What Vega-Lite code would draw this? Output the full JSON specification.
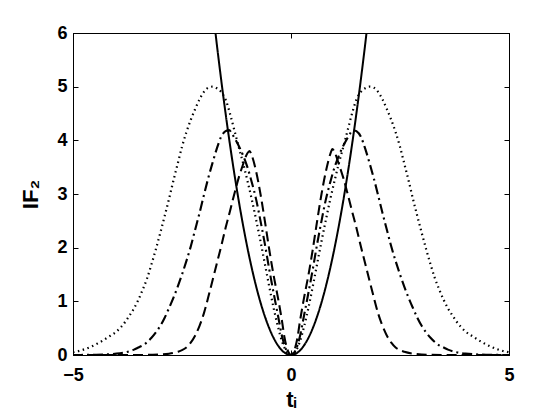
{
  "$schema": "https://vega.github.io/schema/vega-lite/v6.json",
  "width": 436,
  "height": 322,
  "autosize": {"type": "none"},
  "padding": {"left": 73, "top": 33, "right": 51, "bottom": 65},
  "background": "white",
  "config": {
    "view": {"stroke": "black", "strokeWidth": 1},
    "font": "Liberation Sans",
    "axis": {
      "grid": false,
      "domainColor": "black",
      "tickColor": "black",
      "labelColor": "black",
      "titleColor": "black",
      "labelFont": "Liberation Sans",
      "titleFont": "Liberation Sans",
      "labelFontWeight": "bold",
      "titleFontWeight": "bold",
      "labelFontSize": 18,
      "titleFontSize": 22,
      "tickSize": -5,
      "tickWidth": 1,
      "domainWidth": 1
    }
  },
  "data": {
    "values": [
      {"s": "solid", "t": -1.8, "v": 6.48}, {"s": "solid", "t": -1.7, "v": 5.78}, {"s": "solid", "t": -1.6, "v": 5.12}, {"s": "solid", "t": -1.5, "v": 4.5}, {"s": "solid", "t": -1.4, "v": 3.92}, {"s": "solid", "t": -1.3, "v": 3.38}, {"s": "solid", "t": -1.2, "v": 2.88}, {"s": "solid", "t": -1.1, "v": 2.42}, {"s": "solid", "t": -1.0, "v": 2.0}, {"s": "solid", "t": -0.9, "v": 1.62}, {"s": "solid", "t": -0.8, "v": 1.28}, {"s": "solid", "t": -0.7, "v": 0.98}, {"s": "solid", "t": -0.6, "v": 0.72}, {"s": "solid", "t": -0.5, "v": 0.5}, {"s": "solid", "t": -0.4, "v": 0.32}, {"s": "solid", "t": -0.3, "v": 0.18}, {"s": "solid", "t": -0.2, "v": 0.08}, {"s": "solid", "t": -0.1, "v": 0.02}, {"s": "solid", "t": 0, "v": 0},
      {"s": "solid", "t": 0.1, "v": 0.02}, {"s": "solid", "t": 0.2, "v": 0.08}, {"s": "solid", "t": 0.3, "v": 0.18}, {"s": "solid", "t": 0.4, "v": 0.32}, {"s": "solid", "t": 0.5, "v": 0.5}, {"s": "solid", "t": 0.6, "v": 0.72}, {"s": "solid", "t": 0.7, "v": 0.98}, {"s": "solid", "t": 0.8, "v": 1.28}, {"s": "solid", "t": 0.9, "v": 1.62}, {"s": "solid", "t": 1.0, "v": 2.0}, {"s": "solid", "t": 1.1, "v": 2.42}, {"s": "solid", "t": 1.2, "v": 2.88}, {"s": "solid", "t": 1.3, "v": 3.38}, {"s": "solid", "t": 1.4, "v": 3.92}, {"s": "solid", "t": 1.5, "v": 4.5}, {"s": "solid", "t": 1.6, "v": 5.12}, {"s": "solid", "t": 1.7, "v": 5.78}, {"s": "solid", "t": 1.8, "v": 6.48},

      {"s": "dashed", "t": -5, "v": 0}, {"s": "dashed", "t": -4, "v": 0}, {"s": "dashed", "t": -3.5, "v": 0}, {"s": "dashed", "t": -3.0, "v": 0.01}, {"s": "dashed", "t": -2.8, "v": 0.025}, {"s": "dashed", "t": -2.6, "v": 0.06}, {"s": "dashed", "t": -2.5, "v": 0.09}, {"s": "dashed", "t": -2.4, "v": 0.14}, {"s": "dashed", "t": -2.3, "v": 0.23}, {"s": "dashed", "t": -2.2, "v": 0.36}, {"s": "dashed", "t": -2.1, "v": 0.54}, {"s": "dashed", "t": -2.0, "v": 0.77}, {"s": "dashed", "t": -1.9, "v": 1.07}, {"s": "dashed", "t": -1.8, "v": 1.39}, {"s": "dashed", "t": -1.7, "v": 1.71}, {"s": "dashed", "t": -1.6, "v": 2.03}, {"s": "dashed", "t": -1.5, "v": 2.37}, {"s": "dashed", "t": -1.4, "v": 2.68}, {"s": "dashed", "t": -1.3, "v": 3.0}, {"s": "dashed", "t": -1.2, "v": 3.3}, {"s": "dashed", "t": -1.1, "v": 3.55}, {"s": "dashed", "t": -1.0, "v": 3.76}, {"s": "dashed", "t": -0.95, "v": 3.8}, {"s": "dashed", "t": -0.9, "v": 3.72}, {"s": "dashed", "t": -0.8, "v": 3.42}, {"s": "dashed", "t": -0.7, "v": 3.0}, {"s": "dashed", "t": -0.6, "v": 2.5}, {"s": "dashed", "t": -0.5, "v": 1.97}, {"s": "dashed", "t": -0.4, "v": 1.49}, {"s": "dashed", "t": -0.3, "v": 1.07}, {"s": "dashed", "t": -0.2, "v": 0.6}, {"s": "dashed", "t": -0.15, "v": 0.33}, {"s": "dashed", "t": -0.1, "v": 0.15}, {"s": "dashed", "t": -0.05, "v": 0.04}, {"s": "dashed", "t": 0, "v": 0},
      {"s": "dashed", "t": 0.05, "v": 0.04}, {"s": "dashed", "t": 0.1, "v": 0.15}, {"s": "dashed", "t": 0.15, "v": 0.33}, {"s": "dashed", "t": 0.2, "v": 0.6}, {"s": "dashed", "t": 0.3, "v": 1.07}, {"s": "dashed", "t": 0.4, "v": 1.49}, {"s": "dashed", "t": 0.5, "v": 1.97}, {"s": "dashed", "t": 0.6, "v": 2.5}, {"s": "dashed", "t": 0.7, "v": 3.0}, {"s": "dashed", "t": 0.8, "v": 3.42}, {"s": "dashed", "t": 0.9, "v": 3.74}, {"s": "dashed", "t": 0.95, "v": 3.84}, {"s": "dashed", "t": 1.0, "v": 3.78}, {"s": "dashed", "t": 1.1, "v": 3.55}, {"s": "dashed", "t": 1.2, "v": 3.3}, {"s": "dashed", "t": 1.3, "v": 3.0}, {"s": "dashed", "t": 1.4, "v": 2.68}, {"s": "dashed", "t": 1.5, "v": 2.37}, {"s": "dashed", "t": 1.6, "v": 2.03}, {"s": "dashed", "t": 1.7, "v": 1.71}, {"s": "dashed", "t": 1.8, "v": 1.39}, {"s": "dashed", "t": 1.9, "v": 1.07}, {"s": "dashed", "t": 2.0, "v": 0.77}, {"s": "dashed", "t": 2.1, "v": 0.54}, {"s": "dashed", "t": 2.2, "v": 0.36}, {"s": "dashed", "t": 2.3, "v": 0.23}, {"s": "dashed", "t": 2.4, "v": 0.14}, {"s": "dashed", "t": 2.5, "v": 0.09}, {"s": "dashed", "t": 2.6, "v": 0.06}, {"s": "dashed", "t": 2.8, "v": 0.025}, {"s": "dashed", "t": 3.0, "v": 0.01}, {"s": "dashed", "t": 3.5, "v": 0}, {"s": "dashed", "t": 4, "v": 0}, {"s": "dashed", "t": 5, "v": 0},

      {"s": "dashdot", "t": -5, "v": 0}, {"s": "dashdot", "t": -4.5, "v": 0.005}, {"s": "dashdot", "t": -4.0, "v": 0.025}, {"s": "dashdot", "t": -3.8, "v": 0.05}, {"s": "dashdot", "t": -3.6, "v": 0.1}, {"s": "dashdot", "t": -3.5, "v": 0.14}, {"s": "dashdot", "t": -3.4, "v": 0.18}, {"s": "dashdot", "t": -3.3, "v": 0.24}, {"s": "dashdot", "t": -3.2, "v": 0.32}, {"s": "dashdot", "t": -3.1, "v": 0.42}, {"s": "dashdot", "t": -3.0, "v": 0.54}, {"s": "dashdot", "t": -2.9, "v": 0.69}, {"s": "dashdot", "t": -2.8, "v": 0.87}, {"s": "dashdot", "t": -2.7, "v": 1.06}, {"s": "dashdot", "t": -2.6, "v": 1.27}, {"s": "dashdot", "t": -2.5, "v": 1.5}, {"s": "dashdot", "t": -2.4, "v": 1.75}, {"s": "dashdot", "t": -2.3, "v": 2.02}, {"s": "dashdot", "t": -2.2, "v": 2.33}, {"s": "dashdot", "t": -2.1, "v": 2.64}, {"s": "dashdot", "t": -2.0, "v": 2.97}, {"s": "dashdot", "t": -1.9, "v": 3.29}, {"s": "dashdot", "t": -1.8, "v": 3.58}, {"s": "dashdot", "t": -1.7, "v": 3.85}, {"s": "dashdot", "t": -1.6, "v": 4.07}, {"s": "dashdot", "t": -1.5, "v": 4.17}, {"s": "dashdot", "t": -1.42, "v": 4.19}, {"s": "dashdot", "t": -1.35, "v": 4.12}, {"s": "dashdot", "t": -1.3, "v": 4.05}, {"s": "dashdot", "t": -1.2, "v": 3.9}, {"s": "dashdot", "t": -1.1, "v": 3.72}, {"s": "dashdot", "t": -1.0, "v": 3.5}, {"s": "dashdot", "t": -0.9, "v": 3.22}, {"s": "dashdot", "t": -0.8, "v": 2.9}, {"s": "dashdot", "t": -0.7, "v": 2.5}, {"s": "dashdot", "t": -0.6, "v": 2.07}, {"s": "dashdot", "t": -0.5, "v": 1.6}, {"s": "dashdot", "t": -0.4, "v": 1.16}, {"s": "dashdot", "t": -0.3, "v": 0.74}, {"s": "dashdot", "t": -0.2, "v": 0.33}, {"s": "dashdot", "t": -0.1, "v": 0.08}, {"s": "dashdot", "t": 0, "v": 0},
      {"s": "dashdot", "t": 0.1, "v": 0.08}, {"s": "dashdot", "t": 0.2, "v": 0.33}, {"s": "dashdot", "t": 0.3, "v": 0.74}, {"s": "dashdot", "t": 0.4, "v": 1.16}, {"s": "dashdot", "t": 0.5, "v": 1.6}, {"s": "dashdot", "t": 0.6, "v": 2.07}, {"s": "dashdot", "t": 0.7, "v": 2.5}, {"s": "dashdot", "t": 0.8, "v": 2.9}, {"s": "dashdot", "t": 0.9, "v": 3.22}, {"s": "dashdot", "t": 1.0, "v": 3.5}, {"s": "dashdot", "t": 1.1, "v": 3.72}, {"s": "dashdot", "t": 1.2, "v": 3.9}, {"s": "dashdot", "t": 1.3, "v": 4.05}, {"s": "dashdot", "t": 1.35, "v": 4.12}, {"s": "dashdot", "t": 1.42, "v": 4.19}, {"s": "dashdot", "t": 1.5, "v": 4.17}, {"s": "dashdot", "t": 1.6, "v": 4.07}, {"s": "dashdot", "t": 1.7, "v": 3.85}, {"s": "dashdot", "t": 1.8, "v": 3.58}, {"s": "dashdot", "t": 1.9, "v": 3.29}, {"s": "dashdot", "t": 2.0, "v": 2.97}, {"s": "dashdot", "t": 2.1, "v": 2.64}, {"s": "dashdot", "t": 2.2, "v": 2.33}, {"s": "dashdot", "t": 2.3, "v": 2.02}, {"s": "dashdot", "t": 2.4, "v": 1.75}, {"s": "dashdot", "t": 2.5, "v": 1.5}, {"s": "dashdot", "t": 2.6, "v": 1.27}, {"s": "dashdot", "t": 2.7, "v": 1.06}, {"s": "dashdot", "t": 2.8, "v": 0.87}, {"s": "dashdot", "t": 2.9, "v": 0.69}, {"s": "dashdot", "t": 3.0, "v": 0.54}, {"s": "dashdot", "t": 3.1, "v": 0.42}, {"s": "dashdot", "t": 3.2, "v": 0.32}, {"s": "dashdot", "t": 3.3, "v": 0.24}, {"s": "dashdot", "t": 3.4, "v": 0.18}, {"s": "dashdot", "t": 3.5, "v": 0.14}, {"s": "dashdot", "t": 3.6, "v": 0.1}, {"s": "dashdot", "t": 3.8, "v": 0.05}, {"s": "dashdot", "t": 4.0, "v": 0.025}, {"s": "dashdot", "t": 4.5, "v": 0.005}, {"s": "dashdot", "t": 5, "v": 0},

      {"s": "dotted", "t": -5.0, "v": 0.05}, {"s": "dotted", "t": -4.8, "v": 0.09}, {"s": "dotted", "t": -4.6, "v": 0.15}, {"s": "dotted", "t": -4.4, "v": 0.23}, {"s": "dotted", "t": -4.2, "v": 0.33}, {"s": "dotted", "t": -4.0, "v": 0.44}, {"s": "dotted", "t": -3.9, "v": 0.52}, {"s": "dotted", "t": -3.8, "v": 0.62}, {"s": "dotted", "t": -3.7, "v": 0.74}, {"s": "dotted", "t": -3.6, "v": 0.87}, {"s": "dotted", "t": -3.5, "v": 1.03}, {"s": "dotted", "t": -3.4, "v": 1.22}, {"s": "dotted", "t": -3.3, "v": 1.43}, {"s": "dotted", "t": -3.2, "v": 1.69}, {"s": "dotted", "t": -3.1, "v": 1.97}, {"s": "dotted", "t": -3.0, "v": 2.27}, {"s": "dotted", "t": -2.9, "v": 2.58}, {"s": "dotted", "t": -2.8, "v": 2.9}, {"s": "dotted", "t": -2.7, "v": 3.24}, {"s": "dotted", "t": -2.6, "v": 3.56}, {"s": "dotted", "t": -2.5, "v": 3.88}, {"s": "dotted", "t": -2.4, "v": 4.15}, {"s": "dotted", "t": -2.3, "v": 4.38}, {"s": "dotted", "t": -2.2, "v": 4.58}, {"s": "dotted", "t": -2.1, "v": 4.76}, {"s": "dotted", "t": -2.0, "v": 4.9}, {"s": "dotted", "t": -1.9, "v": 4.98}, {"s": "dotted", "t": -1.8, "v": 5.0}, {"s": "dotted", "t": -1.7, "v": 4.97}, {"s": "dotted", "t": -1.6, "v": 4.9}, {"s": "dotted", "t": -1.5, "v": 4.76}, {"s": "dotted", "t": -1.4, "v": 4.5}, {"s": "dotted", "t": -1.3, "v": 4.19}, {"s": "dotted", "t": -1.2, "v": 3.88}, {"s": "dotted", "t": -1.1, "v": 3.58}, {"s": "dotted", "t": -1.0, "v": 3.25}, {"s": "dotted", "t": -0.9, "v": 2.9}, {"s": "dotted", "t": -0.8, "v": 2.52}, {"s": "dotted", "t": -0.7, "v": 2.12}, {"s": "dotted", "t": -0.6, "v": 1.7}, {"s": "dotted", "t": -0.5, "v": 1.28}, {"s": "dotted", "t": -0.4, "v": 0.88}, {"s": "dotted", "t": -0.3, "v": 0.53}, {"s": "dotted", "t": -0.2, "v": 0.24}, {"s": "dotted", "t": -0.1, "v": 0.06}, {"s": "dotted", "t": 0, "v": 0},
      {"s": "dotted", "t": 0.1, "v": 0.06}, {"s": "dotted", "t": 0.2, "v": 0.24}, {"s": "dotted", "t": 0.3, "v": 0.53}, {"s": "dotted", "t": 0.4, "v": 0.88}, {"s": "dotted", "t": 0.5, "v": 1.28}, {"s": "dotted", "t": 0.6, "v": 1.7}, {"s": "dotted", "t": 0.7, "v": 2.12}, {"s": "dotted", "t": 0.8, "v": 2.52}, {"s": "dotted", "t": 0.9, "v": 2.9}, {"s": "dotted", "t": 1.0, "v": 3.25}, {"s": "dotted", "t": 1.1, "v": 3.58}, {"s": "dotted", "t": 1.2, "v": 3.88}, {"s": "dotted", "t": 1.3, "v": 4.19}, {"s": "dotted", "t": 1.4, "v": 4.5}, {"s": "dotted", "t": 1.5, "v": 4.76}, {"s": "dotted", "t": 1.6, "v": 4.9}, {"s": "dotted", "t": 1.7, "v": 4.97}, {"s": "dotted", "t": 1.8, "v": 5.0}, {"s": "dotted", "t": 1.9, "v": 4.98}, {"s": "dotted", "t": 2.0, "v": 4.9}, {"s": "dotted", "t": 2.1, "v": 4.76}, {"s": "dotted", "t": 2.2, "v": 4.58}, {"s": "dotted", "t": 2.3, "v": 4.38}, {"s": "dotted", "t": 2.4, "v": 4.15}, {"s": "dotted", "t": 2.5, "v": 3.88}, {"s": "dotted", "t": 2.6, "v": 3.56}, {"s": "dotted", "t": 2.7, "v": 3.24}, {"s": "dotted", "t": 2.8, "v": 2.9}, {"s": "dotted", "t": 2.9, "v": 2.58}, {"s": "dotted", "t": 3.0, "v": 2.27}, {"s": "dotted", "t": 3.1, "v": 1.97}, {"s": "dotted", "t": 3.2, "v": 1.69}, {"s": "dotted", "t": 3.3, "v": 1.43}, {"s": "dotted", "t": 3.4, "v": 1.22}, {"s": "dotted", "t": 3.5, "v": 1.03}, {"s": "dotted", "t": 3.6, "v": 0.87}, {"s": "dotted", "t": 3.7, "v": 0.74}, {"s": "dotted", "t": 3.8, "v": 0.62}, {"s": "dotted", "t": 3.9, "v": 0.52}, {"s": "dotted", "t": 4.0, "v": 0.44}, {"s": "dotted", "t": 4.2, "v": 0.33}, {"s": "dotted", "t": 4.4, "v": 0.23}, {"s": "dotted", "t": 4.6, "v": 0.15}, {"s": "dotted", "t": 4.8, "v": 0.09}, {"s": "dotted", "t": 5.0, "v": 0.05}
    ]
  },
  "layer": [
    {
      "mark": {"type": "line", "clip": true, "color": "black", "interpolate": "monotone"},
      "encoding": {
        "x": {
          "field": "t", "type": "quantitative",
          "scale": {"domain": [-5, 5], "nice": false, "zero": false},
          "axis": {"orient": "bottom", "values": [-5, 0, 5], "title": "tᵢ", "labelPadding": 16, "titlePadding": 5, "labelFlush": false}
        },
        "y": {
          "field": "v", "type": "quantitative",
          "scale": {"domain": [0, 6], "nice": false, "zero": false},
          "axis": {"orient": "left", "values": [0, 1, 2, 3, 4, 5, 6], "title": "IF₂", "labelPadding": 11, "titlePadding": 14, "labelFlush": false}
        },
        "detail": {"field": "s"},
        "strokeDash": {
          "field": "s", "type": "nominal",
          "scale": {"domain": ["solid", "dashed", "dashdot", "dotted"], "range": [[1, 0], [10, 5], [10, 4, 2, 4], [1.5, 3.5]]},
          "legend": null
        },
        "strokeWidth": {
          "field": "s", "type": "nominal",
          "scale": {"domain": ["solid", "dashed", "dashdot", "dotted"], "range": [2, 2.2, 1.8, 1.6]},
          "legend": null
        }
      }
    },
    {
      "data": {"values": [{"t": -5, "v": 0}, {"t": 5, "v": 6}]},
      "mark": {"type": "point", "opacity": 0},
      "encoding": {
        "x": {
          "field": "t", "type": "quantitative",
          "axis": {"orient": "top", "values": [-5, 0, 5], "labels": false, "title": null}
        },
        "y": {
          "field": "v", "type": "quantitative",
          "axis": {"orient": "right", "values": [0, 1, 2, 3, 4, 5, 6], "labels": false, "title": null}
        }
      }
    }
  ],
  "resolve": {"axis": {"x": "independent", "y": "independent"}}
}
